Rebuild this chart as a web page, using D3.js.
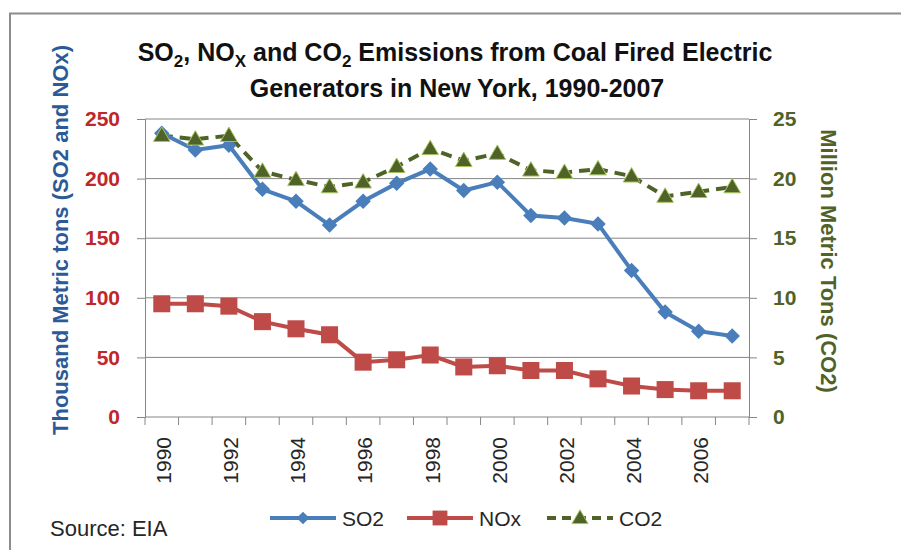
<!DOCTYPE html>
<html>
<head>
<meta charset="utf-8">
<script src="https://cdn.jsdelivr.net/npm/d3@7"></script>
<style>
  body { margin: 0; background: #fff; }
  svg { font-family: "Liberation Sans", Arial, sans-serif; }
</style>
</head>
<body>
<div id="chart"></div>
<script>
// data
var years = [1990, 1991, 1992, 1993, 1994, 1995, 1996, 1997, 1998, 1999,
             2000, 2001, 2002, 2003, 2004, 2005, 2006, 2007];
var so2 = [238, 224, 228, 191, 181, 161, 181, 196, 208, 190,
           197, 169, 167, 162, 123, 88, 72, 68];
var nox = [95, 95, 93, 80, 74, 69, 46, 48, 52, 42,
           43, 39, 39, 32, 26, 23, 22, 22];
var co2 = [23.6, 23.3, 23.6, 20.6, 19.9, 19.3, 19.7, 21.0, 22.5, 21.5,
           22.1, 20.7, 20.5, 20.8, 20.2, 18.5, 18.9, 19.3];
var leftTicks = [0, 50, 100, 150, 200, 250];
var rightTicks = [0, 5, 10, 15, 20, 25];
var labelYears = [1990, 1992, 1994, 1996, 1998, 2000, 2002, 2004, 2006];

var W = 901, H = 550;
// plot box (note: "top" is taken by window.top)
var pLeft = 145, pRight = 749, pTop = 119, pBottom = 417;

var svg = d3.select("#chart").append("svg")
    .attr("width", W)
    .attr("height", H);

// frame (only left and top edges are in view)
svg.append("path")
    .attr("d", "M10," + H + "V13.5H" + W)
    .attr("fill", "none")
    .attr("stroke", "#8c8c8c")
    .attr("stroke-width", 2);

var x = d3.scaleBand().domain(years).range([pLeft, pRight]);
var yL = d3.scaleLinear().domain([0, 250]).range([pBottom, pTop]);
var yR = d3.scaleLinear().domain([0, 25]).range([pBottom, pTop]);
var cx = function(d, i) { return x(years[i]) + x.bandwidth() / 2; };

// gridlines
svg.append("g").selectAll("line")
    .data(leftTicks.slice(1))
    .join("line")
    .attr("x1", pLeft).attr("x2", pRight)
    .attr("y1", d => yL(d)).attr("y2", d => yL(d))
    .attr("stroke", "#868686").attr("stroke-width", 1);

// left axis
var gL = svg.append("g")
    .attr("transform", "translate(" + pLeft + ",0)")
    .call(d3.axisLeft(yL).tickValues(leftTicks).tickSize(8).tickPadding(17));
gL.select(".domain").attr("stroke", "#868686");
gL.selectAll(".tick line").attr("stroke", "#868686");
gL.selectAll(".tick text")
    .attr("fill", "#c0262a")
    .attr("font-size", 21)
    .attr("font-weight", "bold")
    .attr("font-family", "Liberation Sans, Arial, sans-serif");

// right axis
var gR = svg.append("g")
    .attr("transform", "translate(" + pRight + ",0)")
    .call(d3.axisRight(yR).tickValues(rightTicks).tickSize(8).tickPadding(16));
gR.select(".domain").attr("stroke", "#868686");
gR.selectAll(".tick line").attr("stroke", "#868686");
gR.selectAll(".tick text")
    .attr("fill", "#4f6228")
    .attr("font-size", 21)
    .attr("font-weight", "bold")
    .attr("font-family", "Liberation Sans, Arial, sans-serif");

// x axis: ticks on category boundaries, labels every other year
svg.append("line")
    .attr("x1", pLeft).attr("x2", pRight)
    .attr("y1", pBottom).attr("y2", pBottom)
    .attr("stroke", "#868686");
svg.append("g").selectAll("line")
    .data(years.concat([null]))
    .join("line")
    .attr("x1", (d, i) => pLeft + i * x.bandwidth())
    .attr("x2", (d, i) => pLeft + i * x.bandwidth())
    .attr("y1", pBottom).attr("y2", pBottom + 8)
    .attr("stroke", "#868686");
svg.append("g").selectAll("text")
    .data(labelYears)
    .join("text")
    .attr("transform", d => "translate(" + (x(d) + x.bandwidth() / 2 + 2) + "," + (pBottom + 20) + ") rotate(-90)")
    .attr("text-anchor", "end")
    .attr("dy", "0.35em")
    .attr("font-size", 21)
    .attr("fill", "#262626")
    .text(d => d);

// lines
var lineL = d3.line().x(cx).y(d => yL(d));
var lineR = d3.line().x(cx).y(d => yR(d));

svg.append("path").datum(co2)
    .attr("d", lineR)
    .attr("fill", "none")
    .attr("stroke", "#4f6228")
    .attr("stroke-width", 4)
    .attr("stroke-dasharray", "11,7");

svg.append("path").datum(nox)
    .attr("d", lineL)
    .attr("fill", "none")
    .attr("stroke", "#be4b48")
    .attr("stroke-width", 4);

svg.append("path").datum(so2)
    .attr("d", lineL)
    .attr("fill", "none")
    .attr("stroke", "#4a7ebb")
    .attr("stroke-width", 4);

// markers
var diamond = d3.symbol().type(d3.symbolSquare).size(120);
var square = d3.symbol().type(d3.symbolSquare).size(290);
var tri = d3.symbol().type(d3.symbolTriangle).size(120);

svg.append("g").selectAll("path")
    .data(nox)
    .join("path")
    .attr("d", square)
    .attr("transform", (d, i) => "translate(" + cx(d, i) + "," + yL(d) + ")")
    .attr("fill", "#be4b48");

svg.append("g").selectAll("path")
    .data(so2)
    .join("path")
    .attr("d", diamond)
    .attr("transform", (d, i) => "translate(" + cx(d, i) + "," + yL(d) + ") rotate(45)")
    .attr("fill", "#4a7ebb");

svg.append("g").selectAll("path")
    .data(co2)
    .join("path")
    .attr("d", tri)
    .attr("transform", (d, i) => "translate(" + cx(d, i) + "," + (yR(d) + 1) + ")")
    .attr("fill", "#4f6228")
    .attr("stroke", "#a6c35e")
    .attr("stroke-width", 1);

// title with subscripts
var title = svg.append("text")
    .attr("text-anchor", "middle")
    .attr("font-size", 25)
    .attr("font-weight", "bold")
    .attr("fill", "#111");
var l1 = title.append("tspan").attr("x", 455).attr("y", 61);
l1.append("tspan").text("SO");
l1.append("tspan").attr("font-size", 17).attr("dy", 6).text("2");
l1.append("tspan").attr("dy", -6).text(", NO");
l1.append("tspan").attr("font-size", 17).attr("dy", 6).text("X");
l1.append("tspan").attr("dy", -6).text(" and CO");
l1.append("tspan").attr("font-size", 17).attr("dy", 6).text("2");
l1.append("tspan").attr("dy", -6).text(" Emissions from Coal Fired Electric");
title.append("tspan").attr("x", 457).attr("y", 97)
    .text("Generators in New York, 1990-2007");

// axis titles
svg.append("text")
    .attr("transform", "translate(60,240) rotate(-90)")
    .attr("text-anchor", "middle")
    .attr("dy", "0.35em")
    .attr("font-size", 22)
    .attr("font-weight", "bold")
    .attr("fill", "#2c5a98")
    .text("Thousand Metric tons (SO2 and NOx)");

svg.append("text")
    .attr("transform", "translate(829,261) rotate(90)")
    .attr("text-anchor", "middle")
    .attr("dy", "0.35em")
    .attr("font-size", 22)
    .attr("font-weight", "bold")
    .attr("fill", "#4f6228")
    .text("Million Metric Tons (CO2)");

// source
svg.append("text")
    .attr("x", 50).attr("y", 536)
    .attr("font-size", 22)
    .attr("fill", "#262626")
    .text("Source: EIA");

// legend
var legendNames = ["SO2", "NOx", "CO2"];
var legendX = [270, 407, 547];
var legendColors = ["#4a7ebb", "#be4b48", "#4f6228"];
var leg = svg.append("g").selectAll("g")
    .data(legendNames)
    .join("g")
    .attr("transform", (d, i) => "translate(" + legendX[i] + ",518)");
leg.append("line")
    .attr("x1", 0).attr("x2", 66)
    .attr("stroke", (d, i) => legendColors[i])
    .attr("stroke-width", 4)
    .attr("stroke-dasharray", (d, i) => i == 2 ? "9,6" : null);
leg.append("path")
    .attr("d", (d, i) => [d3.symbol().type(d3.symbolSquare).size(80)(),
                          d3.symbol().type(d3.symbolSquare).size(220)(),
                          d3.symbol().type(d3.symbolTriangle).size(110)()][i])
    .attr("transform", (d, i) => "translate(33," + (i == 2 ? 1 : 0) + ")" + (i == 0 ? " rotate(45)" : ""))
    .attr("fill", (d, i) => legendColors[i])
    .attr("stroke", (d, i) => i == 2 ? "#a6c35e" : "none");
leg.append("text")
    .attr("x", 72).attr("y", 8)
    .attr("font-size", 21)
    .attr("fill", "#262626")
    .text(d => d);
</script>
</body>
</html>
